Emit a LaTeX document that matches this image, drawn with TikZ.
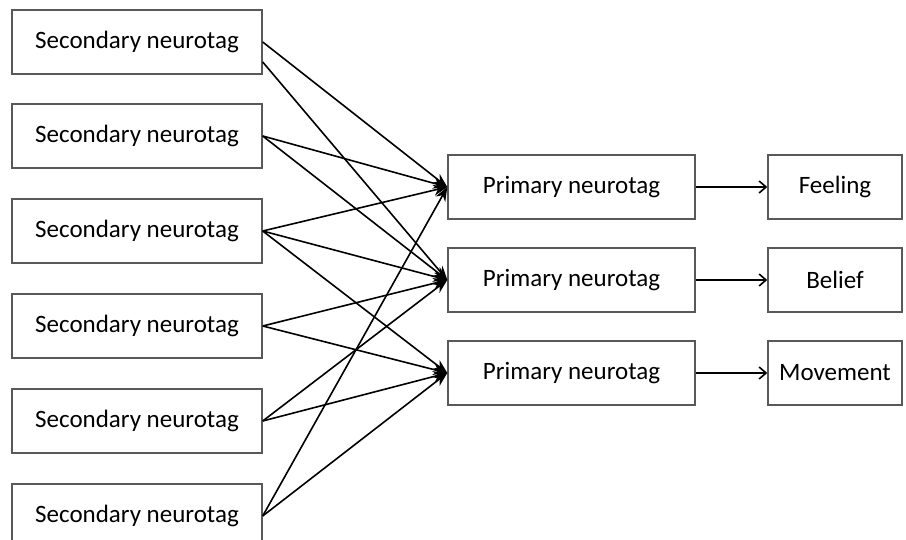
\documentclass[tikz,border=0pt]{standalone}
\usepackage{fontspec}
\setmainfont{Carlito}
\usetikzlibrary{arrows.meta}
\begin{document}
\begin{tikzpicture}[x=1pt,y=-1pt,
  box/.style={draw=black!65, line width=1.4pt, minimum height=64pt, inner sep=0pt, font=\fontsize{25}{28}\selectfont, fill=white},
  sec/.style={box, minimum width=250pt},
  prim/.style={box, minimum width=247pt},
  outb/.style={box, minimum width=134pt},
  conn/.style={line width=1.6pt, -{Stealth[length=14pt,width=11pt]}},
  outarr/.style={line width=1.6pt, -{Straight Barb[length=7pt,width=12pt]}}]
\useasboundingbox (0,0) rectangle (906,540);
\node[sec] (s1) at (137,42) {Secondary neurotag};
\node[sec] (s2) at (137,136) {Secondary neurotag};
\node[sec] (s3) at (137,231) {Secondary neurotag};
\node[sec] (s4) at (137,326) {Secondary neurotag};
\node[sec] (s5) at (137,421) {Secondary neurotag};
\node[sec] (s6) at (137,516) {Secondary neurotag};
\node[prim] (p1) at (571.5,187) {Primary neurotag};
\node[prim] (p2) at (571.5,280) {Primary neurotag};
\node[prim] (p3) at (571.5,373) {Primary neurotag};
\node[outb] (o1) at (835,187) {Feeling};
\node[outb] (o2) at (835,280) {Belief};
\node[outb] (o3) at (835,373) {Movement};
\coordinate (s1b) at ([yshift=-20pt]s1.east);
\draw[conn] (s1.east) -- (p1.west);
\draw[conn] (s1b) -- (p2.west);
\draw[conn] (s2.east) -- (p1.west);
\draw[conn] (s2.east) -- (p2.west);
\draw[conn] (s3.east) -- (p1.west);
\draw[conn] (s3.east) -- (p2.west);
\draw[conn] (s3.east) -- (p3.west);
\draw[conn] (s4.east) -- (p2.west);
\draw[conn] (s4.east) -- (p3.west);
\draw[conn] (s5.east) -- (p2.west);
\draw[conn] (s5.east) -- (p3.west);
\draw[conn] (s6.east) -- (p1.west);
\draw[conn] (s6.east) -- (p3.west);
\draw[outarr] (p1.east) -- (o1.west);
\draw[outarr] (p2.east) -- (o2.west);
\draw[outarr] (p3.east) -- (o3.west);
\end{tikzpicture}
\end{document}
